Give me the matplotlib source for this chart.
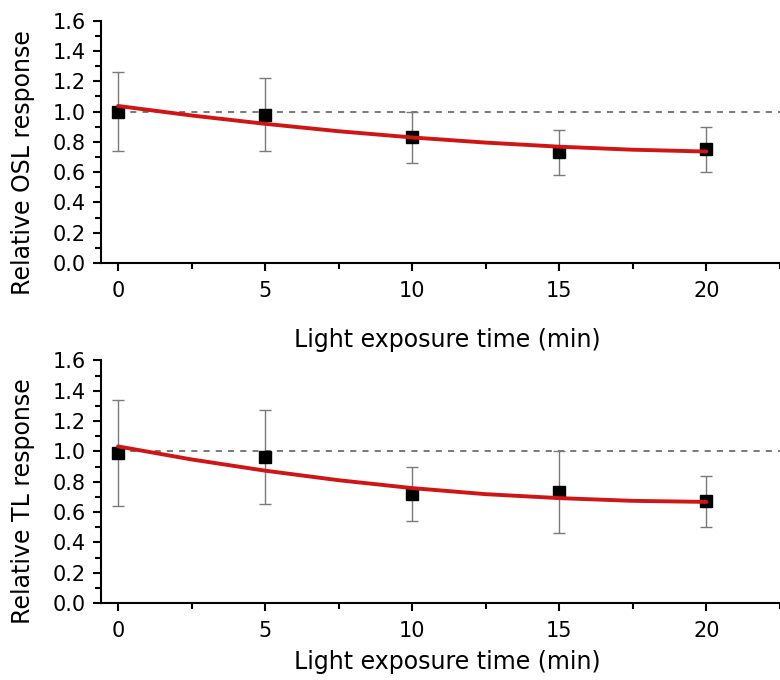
import matplotlib
matplotlib.use("Agg")
import matplotlib.pyplot as plt
from matplotlib.ticker import MultipleLocator, FormatStrFormatter

# ---- data ----
time_min = [0, 5, 10, 15, 20]

osl_resp = [1.00, 0.98, 0.83, 0.73, 0.75]
osl_err = [0.26, 0.24, 0.17, 0.15, 0.15]

tl_resp = [0.99, 0.96, 0.72, 0.73, 0.67]
tl_err = [0.35, 0.31, 0.18, 0.27, 0.17]

fit_x = [0, 2.5, 5, 7.5, 10, 12.5, 15, 17.5, 20]
osl_fit = [1.037, 0.974, 0.919, 0.870, 0.829, 0.795, 0.768, 0.748, 0.736]
tl_fit = [1.033, 0.947, 0.873, 0.810, 0.758, 0.718, 0.692, 0.674, 0.667]

ref_level = 1.0
ref_x = [0, 23]

x_label = "Light exposure time (min)"
y_labels = ["Relative OSL response", "Relative TL response"]

plt.rcParams['font.family'] = ['DejaVu Sans']

fig = plt.figure(figsize=(7.8, 6.8), dpi=100)
ax1 = fig.add_axes([0.1295, 0.6132, 0.8705, 0.3564])
ax2 = fig.add_axes([0.1295, 0.1132, 0.8705, 0.3567])

panels = [
    (ax1, osl_resp, osl_err, osl_fit, y_labels[0], 0.413),
    (ax2, tl_resp, tl_err, tl_fit, y_labels[1], 0.42),
]

for ax, resp, err, fit, ylab, ly in panels:
    ax.hlines(ref_level, ref_x[0], ref_x[1], colors='#555555',
              linestyles=(0, (4, 4)), linewidth=1.1, zorder=1)
    ax.errorbar(time_min, resp, yerr=err, fmt='none', ecolor='#7a7a7a',
                elinewidth=1.0, capsize=4, capthick=1.0, zorder=2)
    ax.plot(time_min, resp, 's', color='black', markersize=9, zorder=3)
    ax.plot(fit_x, fit, '-', color='#d01515', linewidth=2.8, zorder=4,
            solid_capstyle='round')

    ax.set_xlim(-0.58, 22.5)
    ax.set_ylim(0.0, 1.6)
    ax.xaxis.set_major_locator(MultipleLocator(5))
    ax.xaxis.set_minor_locator(MultipleLocator(2.5))
    ax.yaxis.set_major_locator(MultipleLocator(0.2))
    ax.yaxis.set_minor_locator(MultipleLocator(0.1))
    ax.yaxis.set_major_formatter(FormatStrFormatter('%.1f'))

    for s in ['top', 'right']:
        ax.spines[s].set_visible(False)
    for s in ['left', 'bottom']:
        ax.spines[s].set_linewidth(1.5)

    ax.tick_params(axis='both', which='major', direction='out', length=6,
                   width=1.5, labelsize=15, pad=5)
    ax.tick_params(axis='both', which='minor', direction='out', length=4,
                   width=1.5)
    ax.tick_params(axis='x', which='major', pad=7)

    ax.set_xlabel(x_label, fontsize=17)
    ax.set_ylabel(ylab, fontsize=17)
    ax.yaxis.set_label_coords(-0.097, ly)

# place x labels explicitly (center in pixels: 340 and 662)
ax1.xaxis.set_label_coords(0.51, (263 - 340) / 242.3)
ax2.xaxis.set_label_coords(0.51, (603 - 662) / 242.5)
ax1.xaxis.get_label().set_va('center')
ax2.xaxis.get_label().set_va('center')

fig.savefig("out.png", dpi=100)
